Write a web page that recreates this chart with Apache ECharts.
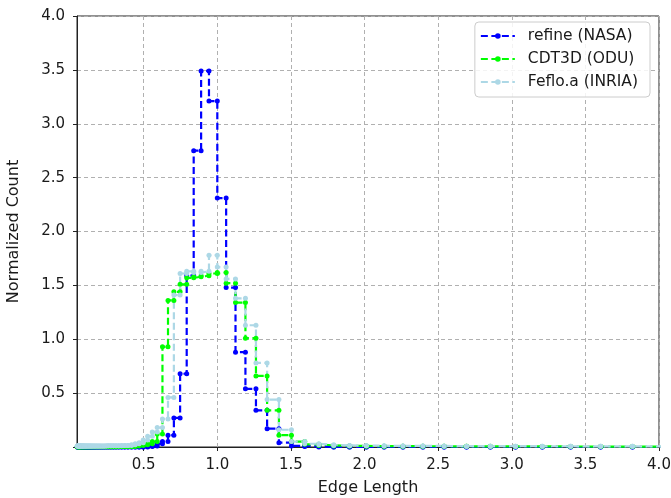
<!DOCTYPE html>
<html>
<head>
<meta charset="utf-8">
<script src="https://cdn.jsdelivr.net/npm/echarts@6/dist/echarts.min.js"></script>
<style>
html,body{margin:0;padding:0;background:#fff;}
#chart{width:671px;height:498px;}
</style>
</head>
<body>
<div id="chart"></div>
<script>
// Bin edges (log-spaced histogram bins)
var binEdges = [
0.0483,0.0512,0.0543,0.0575,0.0610,0.0647,0.0685,0.0727,0.0770,0.0816,
0.0865,0.0917,0.0972,0.1031,0.1092,0.1158,0.1227,0.1301,0.1379,0.1462,
0.1550,0.1643,0.1741,0.1846,0.1956,0.2074,0.2198,0.2330,0.2470,0.2618,
0.2775,0.2942,0.3118,0.3305,0.3503,0.3714,0.3936,0.4173,0.4423,0.4688,
0.4970,0.5268,0.5584,0.5919,0.6274,0.6651,0.7050,0.7473,0.7921,0.8396,
0.8900,0.9434,1.0000,1.0600,1.1236,1.1910,1.2625,1.3382,1.4185,1.5036,
1.5938,1.6895,1.7908,1.8983,2.0122,2.1329,2.2609,2.3966,2.5404,2.6928,
2.8543,3.0256,3.2071,3.3996,3.6035,3.8197,4.0489
];

var refineNASA = [
0,0,0,0,0,0,0,0,0,0,
0,0,0,0,0,0,0,0,0,0,
0,0,0,0,0,0,0,0,0,0,
0,0,0,0,0,0,0,0,0,0,
0,0.005,0.01,0.03,0.05,0.11,0.27,0.68,1.59,2.75,
3.49,3.21,2.31,1.48,0.88,0.54,0.34,0.17,0.04,0.01,
0.005,0,0,0,0,0,0,0,0,0,
0,0,0,0,0,0
];

var cdt3dODU = [
0.003,0.003,0.003,0.003,0.003,0.003,0.003,0.003,0.003,0.003,
0.003,0.003,0.003,0.003,0.003,0.003,0.003,0.003,0.003,0.003,
0.003,0.003,0.003,0.003,0.003,0.003,0.003,0.003,0.003,0.003,
0.003,0.003,0.003,0.005,0.005,0.005,0.005,0.005,0.01,0.015,
0.02,0.03,0.05,0.12,0.93,1.36,1.44,1.51,1.57,1.58,
1.59,1.61,1.62,1.52,1.34,1.01,0.66,0.34,0.11,0.05,
0.025,0.015,0.01,0.01,0.008,0.008,0.007,0.007,0.006,0.006,
0.005,0.005,0.005,0.004,0.004,0.004
];

var fefloINRIA = [
0.01,0.01,0.01,0.01,0.01,0.01,0.01,0.01,0.01,0.01,
0.01,0.01,0.01,0.01,0.01,0.01,0.01,0.01,0.01,0.01,
0.01,0.01,0.01,0.01,0.01,0.01,0.01,0.01,0.012,0.012,
0.012,0.012,0.012,0.012,0.015,0.015,0.015,0.02,0.03,0.04,
0.065,0.10,0.14,0.18,0.26,0.46,1.41,1.61,1.63,1.62,
1.63,1.78,1.67,1.56,1.38,1.13,0.78,0.44,0.16,0.05,
0.03,0.02,0.015,0.012,0.012,0.01,0.01,0.01,0.008,0.008,
0.008,0.007,0.007,0.006,0.006,0.006
];

var seriesNames = ['refine (NASA)', 'CDT3D (ODU)', 'Feflo.a (INRIA)'];
var seriesColors = ['#0000ff', '#00ff00', '#add8e6'];
var xTicks = [0.5, 1.0, 1.5, 2.0, 2.5, 3.0, 3.5, 4.0];

function stepData(vals) {
  var out = [];
  for (var i = 0; i < vals.length; i++) {
    out.push([binEdges[i], vals[i]]);
    out.push([binEdges[i + 1], vals[i]]);
  }
  return out;
}

var allVals = [refineNASA, cdt3dODU, fefloINRIA];
var series = allVals.map(function (v, idx) {
  return {
    name: seriesNames[idx],
    type: 'line',
    data: stepData(v),
    symbol: 'circle',
    symbolSize: 5,
    showSymbol: true,
    clip: true,
    animation: false,
    itemStyle: { color: seriesColors[idx] },
    lineStyle: { color: seriesColors[idx], width: 2.2, type: [7, 3.5] },
    emphasis: { disabled: true }
  };
});

var font = 'DejaVu Sans';
var chart = echarts.init(document.getElementById('chart'), null, { renderer: 'canvas' });
chart.setOption({
  backgroundColor: '#ffffff',
  animation: false,
  textStyle: { fontFamily: font },
  grid: {
    left: 77, right: 12, top: 16, bottom: 51,
    containLabel: false,
    outerBoundsMode: 'none',
    show: true, borderColor: '#222', borderWidth: 1, backgroundColor: 'transparent'
  },
  legend: {
    orient: 'vertical',
    right: 21, top: 22,
    padding: [6, 12, 7, 5],
    itemGap: 7,
    itemWidth: 34, itemHeight: 7,
    backgroundColor: 'rgba(255,255,255,0.85)',
    borderColor: '#cccccc', borderWidth: 1, borderRadius: 4,
    textStyle: { fontFamily: font, fontSize: 15.5, lineHeight: 16, color: '#1a1a1a', padding: [0, 0, 0, 8] },
    data: seriesNames
  },
  xAxis: {
    type: 'value',
    min: 0.047, max: 4.0,
    name: 'Edge Length',
    nameLocation: 'middle',
    nameGap: 33,
    nameTextStyle: { fontFamily: font, fontSize: 16, color: '#1a1a1a' },
    axisLine: { show: true, onZero: false, lineStyle: { color: '#222', width: 1 } },
    axisTick: { show: true, length: 4, customValues: xTicks, lineStyle: { color: '#222' } },
    axisLabel: {
      customValues: xTicks, fontFamily: font, fontSize: 15, color: '#1a1a1a', margin: 11,
      formatter: function (v) { return v.toFixed(1); }
    },
    splitLine: { show: true, lineStyle: { color: '#b0b0b0', type: [4, 3], width: 1 } }
  },
  yAxis: {
    type: 'value',
    min: 0, max: 4.0, interval: 0.5,
    name: 'Normalized Count',
    nameLocation: 'middle',
    nameGap: 55,
    nameTextStyle: { fontFamily: font, fontSize: 16, color: '#1a1a1a' },
    axisLine: { show: true, lineStyle: { color: '#222', width: 1 } },
    axisTick: { show: true, length: 4, lineStyle: { color: '#222' } },
    axisLabel: {
      fontFamily: font, fontSize: 15, color: '#1a1a1a', margin: 12,
      formatter: function (v) { return v === 0 ? '' : v.toFixed(1); }
    },
    splitLine: { show: true, lineStyle: { color: '#b0b0b0', type: [4, 3], width: 1 } }
  },
  series: series
});
</script>
</body>
</html>
